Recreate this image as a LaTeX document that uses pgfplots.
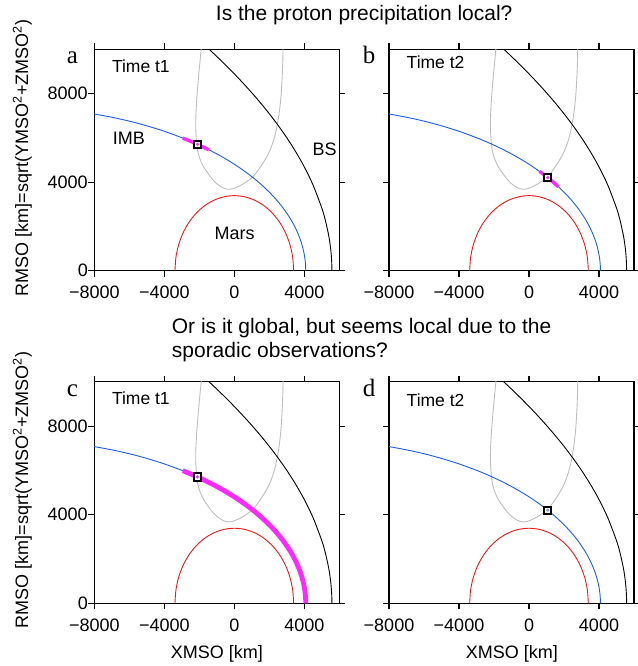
\documentclass[border=0pt]{standalone}
\usepackage{fontspec}
\setmainfont{Liberation Sans}
\newfontfamily\serifletter{Liberation Serif}
\usepackage{pgfplots}
\pgfplotsset{compat=1.18}
\usepackage{pgfplotstable}

\definecolor{imbblue}{RGB}{30,90,255}
\definecolor{marsred}{RGB}{255,20,20}
\definecolor{orbgray}{RGB}{190,190,190}
\definecolor{precip}{RGB}{255,40,255}

\pgfplotstableread{
x y
4082 0
4075 212
4050 454
4000 726
3900 1080
3750 1455
3500 1919
3200 2352
2800 2819
2400 3209
2000 3548
1500 3920
1000 4248
500 4542
0 4809
-500 5052
-1000 5275
-1500 5480
-2000 5670
-2500 5845
-3000 6007
-4000 6297
-5000 6544
-6000 6755
-7000 6931
-8000 7077
}\imb

\pgfplotstableread{
x y
5577 0
5570 311
5550 611
5500 1032
5400 1565
5200 2286
5000 2829
4500 3869
4000 4687
3500 5384
3000 6004
2500 6568
2000 7089
1500 7577
1000 8036
500 8473
0 8890
-500 9290
-1000 9675
-1500 10046
-2000 10406
}\bs

\pgfplotstableread{
x y
3390 0
3338 589
3186 1159
2936 1695
2597 2179
2179 2597
1695 2936
1159 3186
589 3338
0 3390
-589 3338
-1159 3186
-1695 2936
-2179 2597
-2597 2179
-2936 1695
-3186 1159
-3338 589
-3390 0
}\mars

\pgfplotstableread{
x y
-1850 10300
-1905 9900
-1990 9200
-2070 8500
-2140 7800
-2190 7100
-2205 6500
-2165 5900
-2090 5400
-1960 5040
-1760 4700
-1509 4400
-1250 4130
-1000 3930
-700 3765
-400 3678
-50 3710
350 3850
700 4020
1065 4245
1400 4580
1700 4940
2000 5370
2250 5900
2420 6450
2560 7100
2660 7800
2720 8500
2765 9300
2785 10000
2790 10300
}\orbit

\pgfplotstableread{
x y
-2940 5988
-2500 5845
-2000 5670
-1450 5460
}\precipa

\pgfplotstableread{
x y
600 4486
1000 4248
1300 4056
1680 3791
}\precipb

\pgfplotstableread{
x y
-2940 5988
-2500 5845
-2000 5670
-1500 5480
-1000 5275
-500 5052
0 4809
500 4542
1000 4248
1500 3920
2000 3548
2400 3209
2800 2819
3200 2352
3500 1919
3750 1455
3900 1080
4000 726
4050 454
4075 212
4082 0
}\precipc

\pgfplotsset{
  panel/.style={
    width=245pt, height=221.4pt, scale only axis,
    xmin=-8000, xmax=6000, ymin=0, ymax=10000,
    xtick={-8000,-4000,0,4000}, ytick={0,4000,8000},
    xticklabels={−8000,−4000,0,4000},
    yticklabels={0,4000,8000},
    scaled ticks=false,
    tick align=outside, major tick length=6pt,
    axis line style={line width=1.2pt},
    tick style={line width=1.2pt, black},
    tick label style={font=\fontsize{18}{18}\selectfont},
    xticklabel style={yshift=-6pt},
    yticklabel style={xshift=3pt},
  },
}

\newcommand{\basecurves}{%
  \addplot[orbgray, line width=0.9pt, smooth] table {\orbit};
  \addplot[black, line width=0.9pt, smooth] table {\bs};
  \addplot[imbblue, line width=0.9pt, smooth] table {\imb};
  \addplot[marsred, line width=0.9pt, smooth] table {\mars};
}

\begin{document}
\begin{tikzpicture}
\path[use as bounding box] (0pt,0pt) rectangle (637pt,666pt);

% panel a
\begin{axis}[panel, at={(94.3pt,395.3pt)}, anchor=south west]
\basecurves
\addplot[precip, line width=3.4pt, smooth] table {\precipa};
\addplot[only marks, mark=square*, mark size=3.6pt, mark options={draw=black, fill=white, line width=2pt}] coordinates {(-2100,5706)};
\addplot[only marks, mark=*, mark size=1.4pt, precip] coordinates {(-2100,5706)};
\node[anchor=west, inner sep=0pt, font=\fontsize{17.5}{17.5}\selectfont] at (axis cs:-7000,9230) {Time t1};
\node[font=\fontsize{18}{18}\selectfont] at (axis cs:-6029,5985) {IMB};
\node[font=\fontsize{18}{18}\selectfont] at (axis cs:5160,5492) {BS};
\node[font=\fontsize{18}{18}\selectfont] at (axis cs:17,1690) {Mars};
\end{axis}

% panel b
\begin{axis}[panel, at={(389pt,395.3pt)}, anchor=south west, yticklabels={}]
\basecurves
\addplot[precip, line width=3.4pt, smooth] table {\precipb};
\addplot[only marks, mark=square*, mark size=3.6pt, mark options={draw=black, fill=white, line width=2pt}] coordinates {(1070,4205)};
\addplot[only marks, mark=*, mark size=1.4pt, precip] coordinates {(1070,4205)};
\node[anchor=west, inner sep=0pt, font=\fontsize{17.5}{17.5}\selectfont] at (axis cs:-7000,9400) {Time t2};
\end{axis}

% panel c
\begin{axis}[panel, at={(94.3pt,62.7pt)}, anchor=south west]
\basecurves
\addplot[precip, line width=4.8pt, smooth] table {\precipc};
\addplot[only marks, mark=square*, mark size=3.6pt, mark options={draw=black, fill=white, line width=2pt}] coordinates {(-2100,5706)};
\addplot[only marks, mark=*, mark size=1.4pt, precip] coordinates {(-2100,5706)};
\node[anchor=west, inner sep=0pt, font=\fontsize{17.5}{17.5}\selectfont] at (axis cs:-7000,9280) {Time t1};
\end{axis}

% panel d
\begin{axis}[panel, at={(389pt,62.7pt)}, anchor=south west, yticklabels={}]
\basecurves
\addplot[only marks, mark=square*, mark size=3.6pt, mark options={draw=black, fill=white, line width=2pt}] coordinates {(1070,4205)};
\addplot[only marks, mark=*, mark size=1.4pt, imbblue!60] coordinates {(1070,4205)};
\node[anchor=west, inner sep=0pt, font=\fontsize{17.5}{17.5}\selectfont] at (axis cs:-7000,9160) {Time t2};
\end{axis}

% titles
\node[anchor=base, inner sep=0pt, font=\fontsize{21}{21}\selectfont] at (364.2pt,645.3pt) {Is the proton precipitation local?};
\node[anchor=base west, inner sep=0pt, font=\fontsize{21}{21}\selectfont] at (171.7pt,332pt) {Or is it global, but seems local due to the};
\node[anchor=base west, inner sep=0pt, font=\fontsize{21}{21}\selectfont] at (171.7pt,308.7pt) {sporadic observations?};

% panel letters
\node[anchor=base west, inner sep=0pt, font=\serifletter\fontsize{25}{25}\selectfont] at (66.7pt,602.7pt) {a};
\node[anchor=base west, inner sep=0pt, font=\serifletter\fontsize{25}{25}\selectfont] at (362.7pt,602.7pt) {b};
\node[anchor=base west, inner sep=0pt, font=\serifletter\fontsize{25}{25}\selectfont] at (66.7pt,269.3pt) {c};
\node[anchor=base west, inner sep=0pt, font=\serifletter\fontsize{25}{25}\selectfont] at (362.7pt,269.3pt) {d};

% axis labels
\node[rotate=90, anchor=base, inner sep=0pt, font=\fontsize{18}{18}\selectfont] at (28pt,508pt) {RMSO [km]=sqrt(YMSO\textsuperscript{2}+ZMSO\textsuperscript{2})};
\node[rotate=90, anchor=base, inner sep=0pt, font=\fontsize{18}{18}\selectfont] at (28pt,176pt) {RMSO [km]=sqrt(YMSO\textsuperscript{2}+ZMSO\textsuperscript{2})};
\node[anchor=base, inner sep=0pt, font=\fontsize{18}{18}\selectfont] at (216.8pt,7.8pt) {XMSO [km]};
\node[anchor=base, inner sep=0pt, font=\fontsize{18}{18}\selectfont] at (511.8pt,7.8pt) {XMSO [km]};
\end{tikzpicture}
\end{document}
